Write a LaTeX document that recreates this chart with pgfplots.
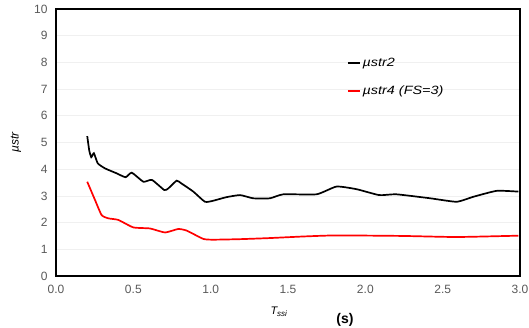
\documentclass[border=0pt]{standalone}
\usepackage{pgfplots}
\pgfplotsset{compat=1.18}
\usepackage{fontspec}
\setmainfont{Liberation Sans}
\newfontfamily\legfont[FakeStretch=1.2]{Liberation Sans}
\begin{document}
\begin{tikzpicture}
\begin{axis}[
  scale only axis, width=464pt, height=267pt,
  xmin=0, xmax=3, ymin=0, ymax=10,
  xtick={0,0.5,...,3}, ytick={0,1,...,10},
  /pgf/number format/assume math mode=true,
  tick label style={font=\fontsize{12}{14}\selectfont, text=black!65},
  xticklabel style={yshift=-6pt, /pgf/number format/.cd, fixed, fixed zerofill, precision=1},
  yticklabel style={xshift=-5pt},
  major tick length=0pt,
  axis line style={line width=1.8pt, black},
  ymajorgrids, grid style={gray!12, line width=0.6pt},
  legend style={draw=none, fill=none, at={(0.62,0.832)}, anchor=north west,
    font=\legfont\fontsize{12}{14}\selectfont\itshape, row sep=14pt,
    legend cell align=left},
  legend image code/.code={\draw[#1, line width=1.8pt] (0pt,0pt) -- (12pt,0pt);},
]
\addplot[black, line width=1.7pt, smooth, tension=0.3] coordinates {
(0.202,5.24) (0.215,4.7) (0.228,4.45) (0.245,4.6) (0.27,4.22) (0.317,4.03)
(0.39,3.85) (0.45,3.7) (0.49,3.87) (0.565,3.53) (0.62,3.6) (0.70,3.22)
(0.726,3.28) (0.78,3.57) (0.81,3.47) (0.888,3.16) (0.963,2.78) (1.017,2.82)
(1.10,2.95) (1.19,3.03) (1.275,2.91) (1.383,2.91) (1.47,3.06) (1.685,3.06)
(1.814,3.35) (1.944,3.25) (2.09,3.03) (2.20,3.06) (2.42,2.91) (2.59,2.78)
(2.70,2.97) (2.85,3.19) (2.99,3.16)
};
\addlegendentry{µstr2}
\addplot[red, line width=1.7pt, smooth, tension=0.3] coordinates {
(0.202,3.53) (0.252,2.85) (0.295,2.28) (0.338,2.16) (0.403,2.1) (0.5,1.82)
(0.608,1.78) (0.705,1.63) (0.79,1.76) (0.845,1.7) (0.952,1.39) (1.017,1.36)
(1.19,1.38) (1.38,1.42) (1.6,1.48) (1.81,1.52) (2.24,1.5) (2.59,1.46) (2.99,1.51)
};
\addlegendentry{µstr4 (FS=3)}
\end{axis}
\node[rotate=90, font=\fontsize{12}{14}\selectfont\itshape] at ([xshift=-40pt]current axis.west) {µstr};
\node[font=\fontsize{11}{13}\selectfont\itshape] at ([xshift=-9pt, yshift=-36pt]current axis.south) {T\textsubscript{\footnotesize ssi}};
\node[font=\fontsize{14}{16}\selectfont\bfseries] at ([xshift=57pt, yshift=-44pt]current axis.south) {(s)};
\pgfresetboundingbox
\useasboundingbox (current axis.south west) ++(-56pt,-52pt) rectangle ++(529pt,328pt);
\end{tikzpicture}
\end{document}
